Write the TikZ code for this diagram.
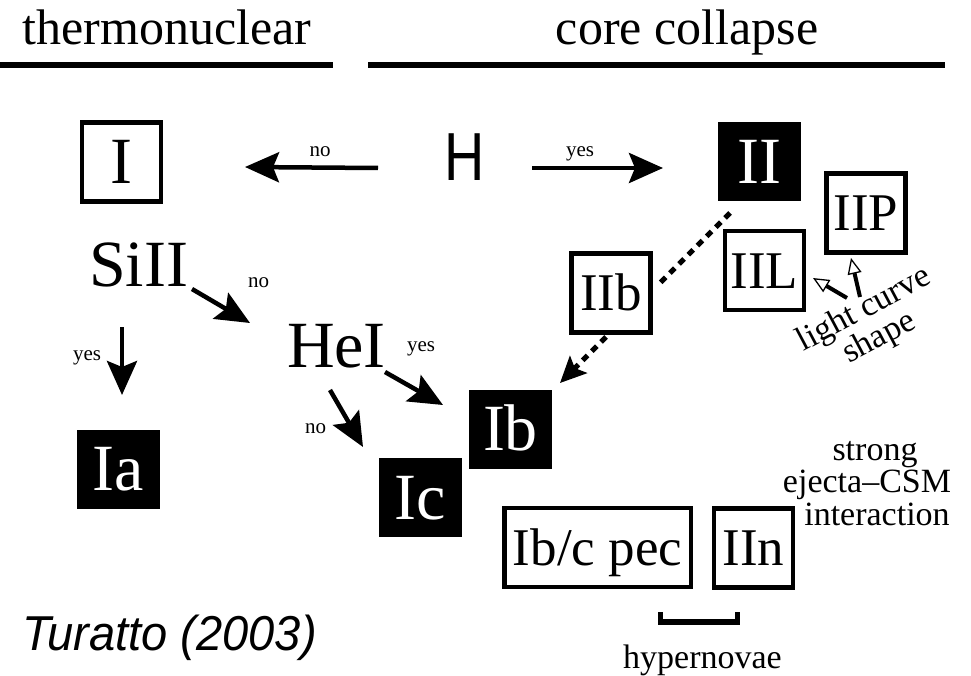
\documentclass[tikz,border=0pt]{standalone}
\usepackage{fontspec}
\setmainfont{Liberation Serif}
\newfontfamily\hsans{Liberation Sans}
\usetikzlibrary{arrows.meta}
\begin{document}
\begin{tikzpicture}[x=1pt,y=-1pt,
  bigtxt/.style={font=\fontsize{66}{66}\selectfont, text height=43.7pt, text depth=0pt, inner sep=0pt},
  midtxt/.style={font=\fontsize{53}{53}\selectfont, text height=35.1pt, text depth=0pt, inner sep=0pt},
  obox/.style={draw, line width=4.5pt, minimum width=79pt, minimum height=79pt},
  fbox/.style={fill=black, text=white, minimum width=83pt, minimum height=79pt},
  lab/.style={font=\fontsize{21}{21}\selectfont, inner sep=0pt},
  note/.style={font=\fontsize{34}{34}\selectfont, inner sep=0pt},
  head/.style={font=\fontsize{50}{50}\selectfont, inner sep=0pt, anchor=base},
  arr/.style={line width=4.5pt, -{Stealth[length=34pt,width=30pt,inset=6pt]}},
  darr/.style={line width=5pt, dash pattern=on 7pt off 6pt},
  dhead/.style={-{Stealth[length=26pt,width=24pt,inset=5pt]}},
  harr/.style={line width=4pt, -{Triangle[open,length=16pt,width=14pt,line width=1.3pt]}},
  rule/.style={line width=6pt}
]
\useasboundingbox (0,0) rectangle (971,676);

% headers
\node[head] (thermo) at (167,45) {thermonuclear};
\node[head] (cc) at (687,45) {core collapse};
\draw[rule] (0,65) -- (333,65);
\draw[rule] (368,65) -- (945,65);

% main nodes
\node[obox, bigtxt] (I) at (121.5,162) {I};
\node[inner sep=0pt, font=\hsans\fontsize{68}{68}\selectfont, text height=48.7pt, text depth=0pt] (H) at (465,156.5) {\scalebox{0.82}[1]{H}};
\node[fbox, bigtxt] (II) at (759,161.5) {II};
\node[bigtxt] (SiII) at (138.5,265) {SiII};
\node[bigtxt] (HeI) at (336.5,345.5) {HeI};
\node[fbox, bigtxt] (Ia) at (118.5,469) {Ia};
\node[fbox, bigtxt] (Ib) at (510.5,429) {Ib};
\node[fbox, bigtxt] (Ic) at (420,497.5) {Ic};
\node[obox, midtxt] (IIb) at (611,293) {IIb};
\node[obox, midtxt] (IIL) at (764.5,270.5) {IIL};
\node[obox, midtxt] (IIP) at (866,213) {IIP};
\node[obox, midtxt, minimum width=186.5pt] (Ibcpec) at (597.5,547.5) {Ib/c pec};
\node[obox, midtxt] (IIn) at (753.5,548) {IIn};

% small labels
\node[lab] (no1) at (320,152) {no};
\node[lab] (yes1) at (580,153.5) {yes};
\node[lab] (no2) at (258.5,282.5) {no};
\node[lab] (yes2) at (87,358) {yes};
\node[lab] (yes3) at (421,349) {yes};
\node[lab] (no3) at (315.5,429) {no};

% notes
\node[note, align=center, rotate=28] (lc) at (872,324) {light curve\\[-2pt]shape};
\node[note, anchor=base] (csm1) at (875,460) {strong};
\node[note, anchor=base] (csm2) at (867,492) {ejecta--CSM};
\node[note, anchor=base] (csm3) at (877,525) {interaction};
\node[note, anchor=base] (hyp) at (702.5,668) {hypernovae};
\node[inner sep=0pt, anchor=base, font=\hsans\itshape\fontsize{49}{49}\selectfont] (tur) at (169.5,650) {\scalebox{0.96}[1]{Turatto (2003)}};

% arrows
\draw[arr] ([shift={(-87,11.5)}]H.center) -- ([shift={(123.5,5)}]I.center);
\draw[arr] ([shift={(67,11.5)}]H.center) -- ([shift={(-96,6.5)}]II.center);
\draw[arr] ([shift={(53.5,24)}]SiII.center) -- ([shift={(-86.5,-22.5)}]HeI.center);
\draw[arr] ([shift={(-16.5,62)}]SiII.center) -- ([shift={(3.5,-74)}]Ia.center);
\draw[arr] ([shift={(48.5,26.5)}]HeI.center) -- ([shift={(-67.5,-24)}]Ib.center);
\draw[arr] ([shift={(-6.5,44.5)}]HeI.center) -- ([shift={(-57,-50.5)}]Ic.center);
\draw[darr] ([shift={(-29,51.5)}]II.center) -- ([shift={(46,-7)}]IIb.center);
\draw[darr, dhead] ([shift={(-5,44)}]IIb.center) -- ([shift={(49.5,-46)}]Ib.center);
\draw[harr] ([shift={(-25,-26)}]lc.center) -- ([shift={(48.5,7.5)}]IIL.center);
\draw[harr] ([shift={(-12,-27)}]lc.center) -- ([shift={(-15,45)}]IIP.center);

% bracket
\draw[line width=5.5pt] (660.5,612) -- (660.5,622) -- (737.5,622) -- (737.5,612);
\end{tikzpicture}
\end{document}
